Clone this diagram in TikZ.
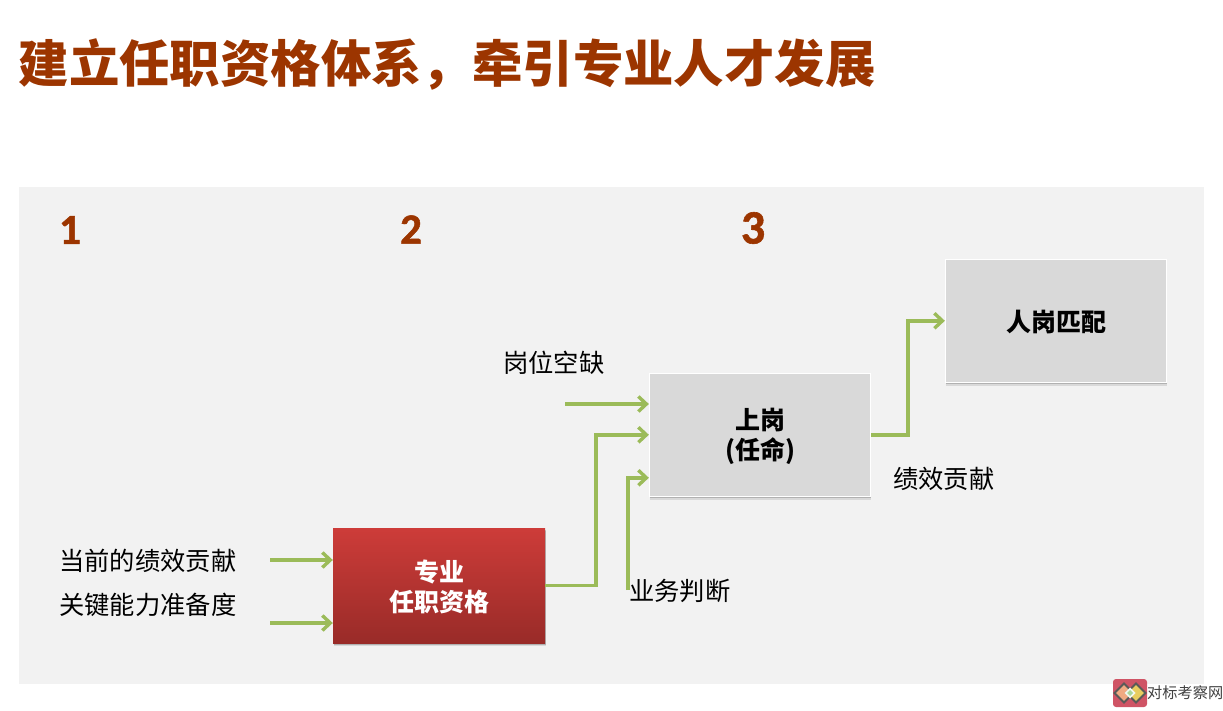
\documentclass[tikz,border=0pt]{standalone}
\usepackage{fontspec}
\setmainfont{Noto Sans CJK SC}
\newfontfamily\numfont{Carlito}[BoldFeatures={FakeBold=1.2}]
\usetikzlibrary{arrows.meta,shadows,calc}
\definecolor{rust}{HTML}{9C3500}
\definecolor{panelgrey}{HTML}{F2F2F2}
\definecolor{boxgrey}{HTML}{D9D9D9}
\definecolor{arrowgreen}{HTML}{9BBB59}
\definecolor{redtop}{HTML}{CD3C39}
\definecolor{redbot}{HTML}{992B28}
\definecolor{wmpink}{HTML}{CF5465}
\definecolor{wmdark}{HTML}{5A5A58}
\definecolor{wmsalmon}{HTML}{F0AA82}
\definecolor{wmyellow}{HTML}{E8CD5F}
\definecolor{wmgreen}{HTML}{A9D79B}
\newcommand{\lowered}[2]{\raisebox{-#1pt}[\height][\depth]{#2}}
\tikzset{
  titletext/.style={anchor=west,inner sep=0pt,text=rust,font=\fontsize{50.4}{56}\selectfont\bfseries},
  numtext/.style={anchor=center,inner sep=0pt,text=rust,font=\numfont\fontsize{43}{48}\selectfont\bfseries},
  labeltext/.style={anchor=west,inner sep=0pt,text=black,font=\fontsize{25.3}{30}\selectfont},
  softshadow/.style={drop shadow={shadow xshift=.5pt,shadow yshift=-3pt,opacity=.1,fill=black},
                     drop shadow={shadow xshift=.5pt,shadow yshift=-1.5pt,opacity=.18,fill=black}},
  greybox/.style={rectangle,draw=white,line width=.8pt,fill=boxgrey,minimum width=221.5pt,minimum height=123.5pt,
    inner sep=0pt,align=center,softshadow,font=\fontsize{25}{30}\selectfont\bfseries,text=black},
  redbox/.style={rectangle,top color=redtop,bottom color=redbot,minimum width=212pt,minimum height=115pt,
    inner sep=0pt,align=center,softshadow,font=\fontsize{25}{30}\selectfont\bfseries,text=white},
  flow/.style={draw=arrowgreen,line width=3.6pt,-{Straight Barb[length=8pt,width=15pt,line width=3.4pt]}},
  wmdiamond/.style={line width=2pt,draw=wmdark,line join=miter},
}
\begin{document}
\begin{tikzpicture}[x=1pt,y=-1pt]
\useasboundingbox (0,0) rectangle (1223,711);
\fill[panelgrey] (19,187) rectangle (1204,684);

\node[titletext] (title) at (18.5,64) {建立任职资格体系，牵引专业人才发展};
\node[numtext] (n1) at (70,230) {1};
\node[numtext] (n2) at (411,229.5) {2};
\node[numtext,font=\numfont\fontsize{48}{52}\selectfont\bfseries] (n3) at (753,228) {3};

\node[redbox] (zy) at (439,585.5) {\lowered{1.2}{专业}\\\lowered{1.2}{任职资格}};
\node[greybox] (sg) at (760,434.8) {\lowered{1.8}{上岗}\\\lowered{1.8}{(任命)}};
\node[greybox] (rg) at (1056,320.8) {\lowered{1}{人岗匹配}};

\node[labeltext] (l1) at (59,561) {当前的绩效贡献};
\node[labeltext] (l2) at (59,605) {关键能力准备度};
\node[labeltext] (l3) at (503,363) {岗位空缺};
\node[labeltext] (l4) at (629,591) {业务判断};
\node[labeltext] (l5) at (893,479) {绩效贡献};

\coordinate (a1) at (270,560);
\coordinate (a2) at (270,623);
\coordinate (a3) at (565,404);
\coordinate (a4) at (628,590);

\draw[flow] (a1) -- (a1 -| zy.west);
\draw[flow] (a2) -- (a2 -| zy.west);
\draw[flow] (a3) -- (a3 -| sg.west);
\draw[flow] (zy.east) -- ++(51,0) |- (sg.west);
\draw[flow] (a4) |- ($(sg.west)+(0,43)$);
\draw[flow] (sg.east) -- ++(37,0) |- (rg.west);

% watermark
\fill[rounded corners=3pt,wmpink] (1113,679) rectangle (1147,707);
\draw[wmdiamond,fill=wmsalmon] (1114.5,693) -- (1124,683.5) -- (1133.5,693) -- (1124,702.5) -- cycle;
\draw[wmdiamond,fill=wmyellow] (1126.5,693) -- (1136,683.5) -- (1145.5,693) -- (1136,702.5) -- cycle;
\fill[white!85!wmgreen] (1124.5,693) -- (1130,687.5) -- (1135.5,693) -- (1130,698.5) -- cycle;
\fill[wmgreen] (1127,693) -- (1130,690) -- (1133,693) -- (1130,696) -- cycle;
\node[anchor=west,inner sep=0pt,text=black!75,font=\fontsize{15.2}{18}\selectfont] (wt) at (1147,692.5) {对标考察网};
\end{tikzpicture}
\end{document}
